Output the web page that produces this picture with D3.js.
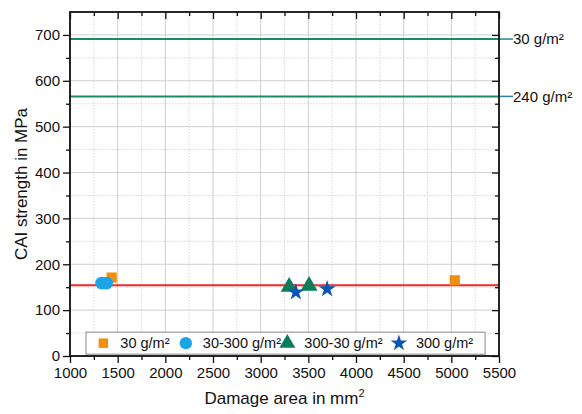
<html>
    <head>
        <style>
            body { margin: 0; background: #fff; }
            text { font-family: "Liberation Sans", Arial, sans-serif; }
        </style>
    </head>

    <body>

        <script src='https://d3js.org/d3.v7.min.js' charset='utf-8'></script>
        <script type="text/javascript">

        // data
        var series = ["30 g/m²", "30-300 g/m²", "300-30 g/m²", "300 g/m²"];
        var symbols = [d3.symbolSquare, d3.symbolCircle, d3.symbolTriangle, d3.symbolStar];
        var colors = ["#f0900c", "#1ca4e6", "#0b7d5c", "#0855b4"];
        var damage30 = [1437, 5036];
        var cai30 = [171, 165];
        var damage30300 = [1332, 1384];
        var cai30300 = [159, 159];
        var damage30030 = [3299, 3508];
        var cai30030 = [151, 153];
        var damage300 = [3369, 3697];
        var cai300 = [139, 146];

        // reference lines
        var refValues = [691, 566];
        var refLabels = ["30 g/m²", "240 g/m²"];
        var redLine = 154;

        var xTicks = d3.range(1000, 5501, 500);
        var yTicks = d3.range(0, 701, 100);

        var W = 582, H = 414;
        var margin = {top: 12, right: 83, bottom: 58, left: 70};
        var w = W - margin.left - margin.right;
        var h = H - margin.top - margin.bottom;

        var svg = d3.select("body").append("svg")
            .attr("width", W)
            .attr("height", H);

        var g = svg.append("g")
            .attr("transform", "translate(" + margin.left + "," + margin.top + ")");

        var x = d3.scaleLinear().domain([1000, 5500]).range([0, w]);
        var y = d3.scaleLinear().domain([0, 750]).range([h, 0]);

        var xMinor = d3.range(1250, 5500, 500);
        var yMinor = d3.range(50, 750, 100);

        // grid
        g.append("g").selectAll("line").data(xMinor).enter().append("line")
            .attr("x1", d => x(d)).attr("x2", d => x(d)).attr("y1", 0).attr("y2", h)
            .attr("stroke", "#d8d8d8").attr("stroke-dasharray", "1.5,1.5");
        g.append("g").selectAll("line").data(yMinor).enter().append("line")
            .attr("y1", d => y(d)).attr("y2", d => y(d)).attr("x1", 0).attr("x2", w)
            .attr("stroke", "#d8d8d8").attr("stroke-dasharray", "1.5,1.5");
        g.append("g").selectAll("line").data(xTicks).enter().append("line")
            .attr("x1", d => x(d)).attr("x2", d => x(d)).attr("y1", 0).attr("y2", h)
            .attr("stroke", "#cfcfcf");
        g.append("g").selectAll("line").data(yTicks).enter().append("line")
            .attr("y1", d => y(d)).attr("y2", d => y(d)).attr("x1", 0).attr("x2", w)
            .attr("stroke", "#cfcfcf");

        // horizontal reference lines
        refValues.forEach(function(v, i) {
            g.append("line")
                .attr("x1", 0).attr("x2", w).attr("y1", y(v)).attr("y2", y(v))
                .attr("stroke", "#1a8a68").attr("stroke-width", 2);
            g.append("line")
                .attr("x1", w).attr("x2", w + 14).attr("y1", y(v)).attr("y2", y(v))
                .attr("stroke", "#2a7fa0").attr("stroke-width", 1.5);
            g.append("text")
                .attr("x", w + 14).attr("y", y(v))
                .attr("dy", "0.35em")
                .attr("font-size", 15)
                .attr("fill", "#111")
                .text(refLabels[i]);
        });

        g.append("line")
            .attr("x1", 0).attr("x2", w).attr("y1", y(redLine)).attr("y2", y(redLine))
            .attr("stroke", "#ee2a2a").attr("stroke-width", 2);

        // axes
        function styleAxis(sel) {
            sel.select(".domain").remove();
            sel.selectAll(".tick line").attr("stroke", "#111").attr("stroke-width", 1.3);
            sel.selectAll("text").attr("font-size", 15).attr("fill", "#111")
                .style("font-family", "Liberation Sans, Arial, sans-serif");
        }

        g.append("g").attr("transform", "translate(0," + h + ")")
            .call(d3.axisBottom(x).tickValues(xTicks).tickSize(7).tickPadding(4).tickFormat(d3.format("d")))
            .call(styleAxis);
        g.append("g").attr("transform", "translate(0," + h + ")")
            .call(d3.axisBottom(x).tickValues(xMinor).tickSize(4).tickFormat(""))
            .call(styleAxis);
        g.append("g")
            .call(d3.axisLeft(y).tickValues(yTicks).tickSize(7).tickPadding(3))
            .call(styleAxis);
        g.append("g")
            .call(d3.axisLeft(y).tickValues(yMinor).tickSize(4).tickFormat(""))
            .call(styleAxis);
        g.append("g")
            .call(d3.axisBottom(x).tickValues(xTicks).tickSize(7).tickFormat(""))
            .call(styleAxis);
        g.append("g")
            .call(d3.axisBottom(x).tickValues(xMinor).tickSize(4).tickFormat(""))
            .call(styleAxis);
        g.append("g").attr("transform", "translate(" + w + ",0)")
            .call(d3.axisLeft(y).tickValues(yTicks).tickSize(7).tickFormat(""))
            .call(styleAxis);
        g.append("g").attr("transform", "translate(" + w + ",0)")
            .call(d3.axisLeft(y).tickValues(yMinor).tickSize(4).tickFormat(""))
            .call(styleAxis);

        // frame
        g.append("rect")
            .attr("width", w).attr("height", h)
            .attr("fill", "none").attr("stroke", "#111").attr("stroke-width", 1.8);

        // legend
        var leg = g.append("g");
        leg.append("rect")
            .attr("x", x(1168)).attr("y", y(52))
            .attr("width", x(5354) - x(1168)).attr("height", y(4) - y(52))
            .attr("fill", "#fff").attr("stroke", "#888").attr("stroke-width", 1);
        var legX = [1350, 2215, 3280, 4450];
        var legSize = [90, 120, 110, 85];
        series.forEach(function(s, i) {
            leg.append("path")
                .attr("d", d3.symbol().type(symbols[i]).size(legSize[i]))
                .attr("transform", "translate(" + x(legX[i]) + "," + y(28) + ")")
                .attr("fill", colors[i]);
            leg.append("text")
                .attr("x", x(legX[i]) + 17).attr("y", y(28))
                .attr("dy", "0.35em")
                .attr("font-size", 14.5).attr("fill", "#111")
                .text(s);
        });

        // points
        var groups = [
            [damage30, cai30, 105],
            [damage30300, cai30300, 130],
            [damage30030, cai30030, 125],
            [damage300, cai300, 90]
        ];
        groups.forEach(function(gr, i) {
            g.append("g").selectAll("path")
                .data(gr[0].map((d, j) => [d, gr[1][j]]))
                .enter().append("path")
                .attr("d", d3.symbol().type(symbols[i]).size(gr[2]))
                .attr("transform", d => "translate(" + x(d[0]) + "," + y(d[1]) + ")")
                .attr("fill", colors[i]);
        });

        // axis titles
        var xt = svg.append("text")
            .attr("x", margin.left + w / 2).attr("y", 404)
            .attr("text-anchor", "middle")
            .attr("font-size", 17).attr("fill", "#111");
        xt.append("tspan").text("Damage area in mm");
        xt.append("tspan").attr("dy", -7).attr("font-size", 11).text("2");

        svg.append("text")
            .attr("transform", "translate(27," + (margin.top + h / 2) + ") rotate(-90)")
            .attr("text-anchor", "middle")
            .attr("font-size", 17).attr("fill", "#111")
            .text("CAI strength in MPa");

        </script>

    </body>
</html>
